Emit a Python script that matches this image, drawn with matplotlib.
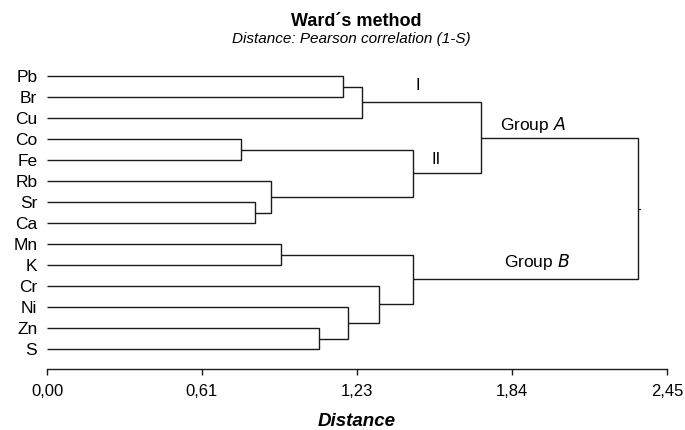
import matplotlib.pyplot as plt

plt.rcParams['font.family'] = ['Liberation Sans', 'DejaVu Sans']

# Leaf labels, top to bottom
leaves = ['Pb', 'Br', 'Cu', 'Co', 'Fe', 'Rb', 'Sr', 'Ca', 'Mn', 'K', 'Cr', 'Ni', 'Zn', 'S']

# Linkage, scipy style: node ids 0..13 are leaves, 14+ are merges
merge_left = [0, 14, 3, 6, 5, 16, 15, 8, 12, 11, 10, 21, 20]
merge_right = [1, 2, 4, 7, 17, 18, 19, 9, 13, 22, 23, 24, 25]
merge_dist = [1.171, 1.243, 0.767, 0.822, 0.885, 1.445, 1.716,
              0.925, 1.076, 1.190, 1.313, 1.445, 2.334]

tick_vals = [0.0, 0.6125, 1.225, 1.8375, 2.45]
tick_labels = ['0,00', '0,61', '1,23', '1,84', '2,45']

line_col = '#1a1a1a'

fig = plt.figure(figsize=(6.85, 4.3), dpi=100)
ax = fig.add_axes([47 / 685, 61 / 430, 620 / 685, 303 / 430])

# position (distance, y) of every node
pos = {i: (0.0, float(i)) for i in range(len(leaves))}
for k, (a, b, d) in enumerate(zip(merge_left, merge_right, merge_dist)):
    node = len(leaves) + k
    xa, ya = pos[a]
    xb, yb = pos[b]
    ax.plot([xa, d, d, xb], [ya, ya, yb, yb], color=line_col, lw=1.0,
            solid_joinstyle='miter', solid_capstyle='butt')
    pos[node] = (d, (ya + yb) / 2)

# short stub out of the root
root_x, root_y = pos[len(leaves) + len(merge_dist) - 1]
ax.plot([root_x, root_x + 0.008], [root_y, root_y], color=line_col, lw=0.8)

ax.set_xlim(0, 2.45)
ax.set_ylim(13.95, -0.48)

ax.set_yticks(range(len(leaves)))
ax.set_yticklabels(leaves, fontsize=12.5)
ax.tick_params(axis='y', length=0, pad=7)

ax.set_xticks(tick_vals)
ax.set_xticklabels(tick_labels, fontsize=12)
ax.tick_params(axis='x', length=4, width=1.0, pad=7, color=line_col)

for side in ['top', 'right', 'left']:
    ax.spines[side].set_visible(False)
ax.spines['bottom'].set_linewidth(1.0)
ax.spines['bottom'].set_color(line_col)

# cluster annotations
ax.text(1.466, 0.43, 'I', fontsize=12, ha='center', va='center')
ax.text(1.537, 3.95, 'II', fontsize=12, ha='center', va='center')
ax.text(1.92, 2.33, 'Group $\\mathit{A}$', fontsize=12.5, ha='center', va='center')
ax.text(1.936, 8.86, 'Group $\\mathit{B}$', fontsize=12.5, ha='center', va='center')

fig.text(356 / 685, 1 - 21.5 / 430, 'Ward´s method', fontsize=13, fontweight='bold',
         ha='center', va='center')
fig.text(351 / 685, 1 - 39 / 430, 'Distance: Pearson correlation (1-S)', fontsize=11,
         style='italic', ha='center', va='center')
fig.text(357 / 685, 1 - 421 / 430, 'Distance', fontsize=13.5, fontweight='bold',
         style='italic', ha='center', va='center')

fig.savefig('out.png', dpi=100)
